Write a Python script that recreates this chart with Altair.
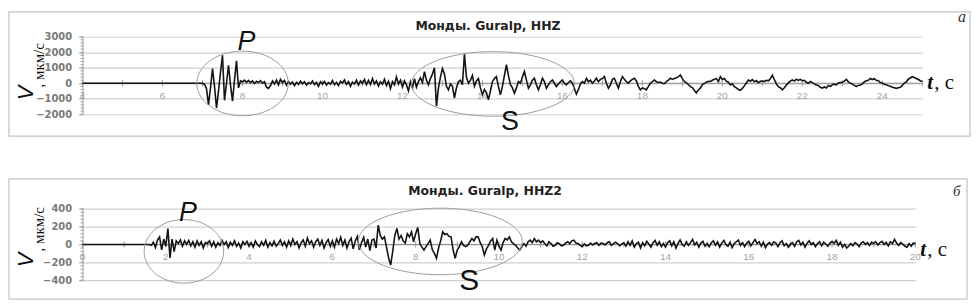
import altair as alt
import pandas as pd

# ---------------- top panel: HHZ ----------------
TOP_TITLE = "Монды. Guralp, HHZ"
TOP_LETTER = "а"
TOP_X_DOMAIN = [4, 25]
TOP_Y_DOMAIN = [-2000, 3000]
TOP_Y_TICKS = [-2000, -1000, 0, 1000, 2000, 3000]
TOP_Y_MINOR = list(range(-2000, 3001, 200))
TOP_X_LABELS = [4, 6, 8, 10, 12, 14, 16, 18, 20, 22, 24]
TOP_X_TICKS = list(range(4, 26))
TOP_FLAT_T = [4.0]
TOP_FLAT_V = [0]
TOP_START = 7.0
TOP_STEP = 0.05
TOP_V = [
    # 7.00 - 7.95  (P arrival)
    0, -60, -350, -1400, -300, 950, -200, -1600, -500, 700,
    1800, -1100, 0, 1150, -100, -1150, 200, 1450, -300, 150,
    # 8
    80, 200, 60, 180, 40, 150, -20, 130, 50, 170,
    0, 100, -250, -330, -150, 150, -50, 200, -100, 250,
    # 9
    40, 180, -120, 120, -60, 80, -150, 60, -80, 130,
    -30, 100, -120, 50, -40, 150, -90, 60, -200, 100,
    # 10
    -50, 120, -120, 40, -60, 180, -100, 60, -150, 130,
    20, 220, -80, 100, -200, 80, -50, 200, -120, 150,
    # 11
    0, 250, -100, 180, -80, 300, -50, 150, -180, 100,
    -60, 250, -150, 120, -350, 100, -100, 400, -50, 200,
    # 12  (S arrival)
    -250, 150, -100, -500, 100, -300, 300, -250, 100, 350,
    50, 750, 200, -100, 300, 600, 1000, -1480, -300, 400,
    # 13
    950, 600, -200, -430, -50, -200, -960, -300, 100, 200,
    -100, 1900, 400, 0, 200, 500, -200, 150, 300, -300,
    # 14
    -750, -400, -600, -1070, -500, 100, 300, 430, -200, -750,
    -200, 500, 1200, 500, -100, -300, -640, -300, 100, 0,
    # 15
    400, 750, 200, -320, -100, 200, 320, -100, -430, -100,
    320, 100, -320, -100, 100, 210, 0, -210, -50, 100,
    # 16
    210, 0, -100, 50, 150, 0, -350, -700, -400, -50,
    100, 0, 320, 100, 200, 0, 150, 320, 100, 250,
    # 17
    300, 430, 0, -320, -100, 250, 320, 0, -320, 100,
    430, 250, 100, 0, 150, 250, 320, 150, -200, -430,
    # 18
    -300, -350, -430, -200, 0, 100, 210, 100, 50, 80,
    0, -30, 100, 200, 320, 250, 300, 350, 430, 530,
    # 19
    300, 120, 30, -80, -220, -280, -470, -620, -430, -320,
    -90, -20, 70, 130, 110, 190, 260, 300, 110, 420,
    # 20
    240, 310, 130, 70, -110, -40, -220, -300, -400, -460,
    -330, -170, 20, 200, 130, 230, 90, 170, 40, 120,
    # 21
    140, 110, 190, 160, 290, 520, 240, -40, -220, -290,
    -420, -290, -120, 20, 140, 220, 140, 260, 180, 250,
    # 22
    160, 190, 60, -10, 110, 40, -40, -110, -140, -260,
    -310, -240, -310, -140, -210, -90, -60, -110, 10, 40,
    # 23
    60, 140, 250, 90, 10, -60, -140, -210, -140, -110,
    -40, 90, 160, 190, 310, 240, 290, 190, 160, 40,
    # 24
    10, -60, -90, -160, -190, -260, -290, -330, -290, -260,
    -140, 10, 90, 260, 340, 420, 370, 310, 240, 160,
    # 25.00
    110,
]

# ---------------- bottom panel: HHZ2 ----------------
BOT_TITLE = "Монды. Guralp, HHZ2"
BOT_LETTER = "б"
BOT_X_DOMAIN = [0, 20]
BOT_Y_DOMAIN = [-400, 400]
BOT_Y_TICKS = [-400, -200, 0, 200, 400]
BOT_Y_MINOR = list(range(-400, 401, 40))
BOT_X_LABELS = [0, 2, 4, 6, 8, 10, 12, 14, 16, 18, 20]
BOT_X_TICKS = list(range(0, 21))
BOT_FLAT_T = [0.0]
BOT_FLAT_V = [0]
BOT_START = 1.6
BOT_STEP = 0.05
BOT_V = [
    # 1.60 - 1.95 (P arrival)
    0, -10, 25, -35, 50, 85, -60, 60,
    # 2
    -20, 178, -150, 60, -80, 40, 10, 50, -20, 40,
    0, 45, -15, 30, -30, 40, -10, 30, -40, 20,
    # 3
    10, 40, -20, 30, -30, 20, -10, 45, 0, 30,
    -35, 25, -10, 40, -20, 15, -40, 30, 0, 35,
    # 4
    -20, 20, -30, 40, 0, -25, 30, -10, 45, -30,
    20, -15, 35, -20, 10, 50, -10, 30, -30, 40,
    # 5
    -10, 60, 0, 30, -40, 20, 50, -20, 70, 10,
    40, -30, 30, 60, -10, 45, -40, 20, 55, -20,
    # 6
    40, -30, 60, 10, 80, -10, 50, -40, 30, 70,
    -50, 40, 90, -60, 20, 80, -30, 60, -70, 50,
    # 7 (S arrival)
    60, -40, 215, 100, 60, 85, -30, -150, -230, -75,
    100, 178, 60, 100, 40, 15, 120, 85, 140, 30,
    # 8
    120, 190, 10, -30, -63, -25, 10, 48, -60, -100,
    -155, -40, 40, 140, 110, 120, 90, 85, -63, -155,
    # 9
    -60, -25, 30, -10, -25, -10, 30, 66, 40, 85,
    85, 20, -25, -118, -50, -10, 40, 66, -63, 48,
    # 10
    -20, -63, 20, 66, 50, 85, 30, 10, -10, -40,
    -63, -25, 10, -20, 30, 48, 20, 66, 30, 48,
    # 11
    20, 40, 10, -15, 30, 10, -20, -10, 20, 10,
    -15, -10, 15, 30, 10, 40, 48, 15, 10, -10,
    # 12
    -25, 5, -15, -10, 15, -5, 10, 20, -10, 15,
    10, -5, 20, 30, -10, 10, 25, 10, -15, 5,
    # 13
    15, -20, 30, -10, 40, -30, 10, 25, -40, 20,
    -15, 35, 5, -30, 20, 45, -10, 30, -25, 10,
    # 14
    -30, 20, 40, -15, 30, -40, 10, 50, 0, -20,
    30, -10, 20, 55, -5, 25, -30, 15, 35, -20,
    # 15
    10, -25, 20, 40, -10, 30, -30, 15, 45, 0,
    -20, 25, -35, 10, 30, 50, -10, 20, -25, 15,
    # 16
    35, -15, 20, 55, 10, 30, -20, 25, -35, 5,
    20, -10, 30, 15, -25, 20, 40, -15, 10, -30,
    # 17
    5, 20, -20, 30, 45, -5, 25, -30, 15, 40,
    0, 20, -25, 10, 30, -15, 25, 5, -20, 15,
    # 18
    35, 10, 45, -10, 25, -30, 0, -40, -20, 10,
    -15, 20, 5, -25, 15, 30, 0, 20, -10, 25,
    # 19
    10, 30, -5, 20, 35, 0, 25, -15, 30, 10,
    55, 15, -10, 20, 5, -20, -30, 10, -20, 15,
    # 20.00
    10,
]

ELLIPSE = "M-1,0A1,{r},0,1,1,1,0A1,{r},0,1,1,-1,0Z"

TOP_LAYOUT = dict(
    width=845, height=78, frame=(-74, 893, -25, 100),
    title_xy=(408, -11),
    ell=[(161, 47, 92, 0.707), (413, 47.5, 164, 0.396)],
    P=(165, 13, 27), S=(430, 94, 27),
    t_xy=(850, 53), c_x=857, letter_xy=(881, -15, 16),
    V_xy=(-50, 64), sub_xy=(-39, 51),
)
BOT_LAYOUT = dict(
    width=838, height=72, frame=(-74, 890, -30, 91),
    title_xy=(405, -17.5),
    ell=[(102, 43, 80, 0.8), (360, 33, 165, 0.406)],
    P=(106, 12, 27), S=(389, 82, 30),
    t_xy=(843, 48), c_x=850, letter_xy=(876, -13, 15),
    V_xy=(-50, 59), sub_xy=(-39, 43),
)


def one_row():
    return pd.DataFrame({"k": [0]})


def panel(title, letter, xdom, ydom, yticks, yminor, xlabels, xticks,
          flat_t, flat_v, start, step, values, L):
    t = list(flat_t) + [round(start + i * step, 3) for i in range(len(values))]
    v = list(flat_v) + list(values)
    trace = pd.DataFrame({"t": t, "v": v})

    xs = alt.Scale(domain=xdom, nice=False, zero=False)
    ys = alt.Scale(domain=ydom, nice=False, zero=False)
    yaxis = alt.Axis(values=yticks, format="d", title="", grid=True, gridColor="#d0d0d0",
                     gridWidth=1.2, domainColor="#a0a0a0", tickColor="#a0a0a0",
                     tickSize=4, labelFont="DejaVu Sans", labelFontSize=10,
                     labelFontWeight="bold", labelColor="#7a7a7a", labelPadding=7)

    def X(f):
        return alt.X(f, type="quantitative", scale=xs, axis=None)

    def Y(f):
        return alt.Y(f, type="quantitative", scale=ys, axis=yaxis)

    fx0, fx1, fy0, fy1 = L["frame"]
    frame = alt.Chart(one_row()).mark_rect(fill="white", fillOpacity=0, stroke="#c2c2c2",
                                           strokeWidth=1.2).encode(
        x=alt.value(fx0), x2=alt.value(fx1), y=alt.value(fy0), y2=alt.value(fy1))

    zero = alt.Chart(pd.DataFrame({"t": [xdom[0]], "t2": [xdom[1]], "v": [0]})).mark_rule(
        color="#8c8c8c", strokeWidth=1).encode(x=X("t"), x2="t2:Q", y=Y("v"))

    ticks = alt.Chart(pd.DataFrame({"t": xticks, "v": [0] * len(xticks)})).mark_point(
        shape="M0,-1L0,1", size=36, filled=False, color="#9a9a9a", strokeWidth=1, opacity=1
    ).encode(x=X("t"), y=Y("v"))

    minor = alt.Chart(pd.DataFrame({"t": [xdom[0]] * len(yminor), "v": yminor})).mark_point(
        shape="M-1,0L0.5,0", size=16, filled=False, color="#a0a0a0", strokeWidth=1, opacity=1
    ).encode(x=X("t"), y=Y("v"))

    xlab = alt.Chart(pd.DataFrame({"t": xlabels, "v": [0] * len(xlabels),
                                   "s": [str(a) for a in xlabels]})).mark_text(
        font="Liberation Sans", fontSize=10, color="#a3a3a3", dy=13, baseline="middle"
    ).encode(x=X("t"), y=Y("v"), text="s:N")

    line = alt.Chart(trace).mark_line(color="#141414", strokeWidth=1.6).encode(
        x=X("t"), y=Y("v"))

    layers = [frame, zero, ticks, minor, xlab, line]

    for (ex, ey, diam, ratio) in L["ell"]:
        layers.append(alt.Chart(one_row()).mark_point(
            shape=ELLIPSE.format(r=ratio), size=diam * diam, filled=False,
            color="#9c9c9c", strokeWidth=1, opacity=1
        ).encode(x=alt.value(ex), y=alt.value(ey)))

    def txt(s, x, y, **kw):
        return alt.Chart(pd.DataFrame({"s": [s]})).mark_text(**kw).encode(
            text="s:N", x=alt.value(x), y=alt.value(y))

    tx, ty = L["title_xy"]
    layers.append(txt(title, tx, ty, font="DejaVu Sans", fontWeight="bold", fontSize=12.5,
                      color="#222", baseline="middle", align="center"))
    px, py, ps = L["P"]
    layers.append(txt("P", px, py, font="Liberation Sans", fontStyle="italic", fontSize=ps,
                      color="#111", align="center", baseline="alphabetic"))
    sx, sy, ss = L["S"]
    layers.append(txt("S", sx, sy, font="Liberation Sans", fontSize=ss,
                      color="#111", align="center", baseline="alphabetic"))
    ttx, tty = L["t_xy"]
    layers.append(txt("t", ttx, tty, font="Liberation Serif", fontStyle="italic",
                      fontWeight="bold", fontSize=21, color="#111", align="left",
                      baseline="alphabetic"))
    layers.append(txt(", с", L["c_x"], tty, font="Liberation Serif", fontSize=21,
                      color="#111", align="left", baseline="alphabetic"))
    lx, ly, ls = L["letter_xy"]
    layers.append(txt(letter, lx, ly, font="Liberation Serif", fontStyle="italic",
                      fontSize=ls, color="#333", align="left", baseline="alphabetic"))
    vx, vy = L["V_xy"]
    layers.append(txt("V", vx, vy, font="Liberation Sans", fontStyle="italic", fontSize=22,
                      color="#111", align="left", baseline="alphabetic", angle=270))
    bx, by = L["sub_xy"]
    layers.append(txt(", мкм/с", bx, by, font="Liberation Serif", fontSize=15,
                      color="#111", align="left", baseline="alphabetic", angle=270))

    return alt.layer(*layers).properties(width=L["width"], height=L["height"])


top = panel(TOP_TITLE, TOP_LETTER, TOP_X_DOMAIN, TOP_Y_DOMAIN, TOP_Y_TICKS, TOP_Y_MINOR,
            TOP_X_LABELS, TOP_X_TICKS, TOP_FLAT_T, TOP_FLAT_V, TOP_START, TOP_STEP, TOP_V,
            TOP_LAYOUT)
bot = panel(BOT_TITLE, BOT_LETTER, BOT_X_DOMAIN, BOT_Y_DOMAIN, BOT_Y_TICKS, BOT_Y_MINOR,
            BOT_X_LABELS, BOT_X_TICKS, BOT_FLAT_T, BOT_FLAT_V, BOT_START, BOT_STEP, BOT_V,
            BOT_LAYOUT)

chart = alt.vconcat(top, bot, spacing=41).properties(
    padding=0, background="white"
).configure_view(strokeWidth=0)

chart.save("out.html", embed_options={"renderer": "svg", "actions": False})
